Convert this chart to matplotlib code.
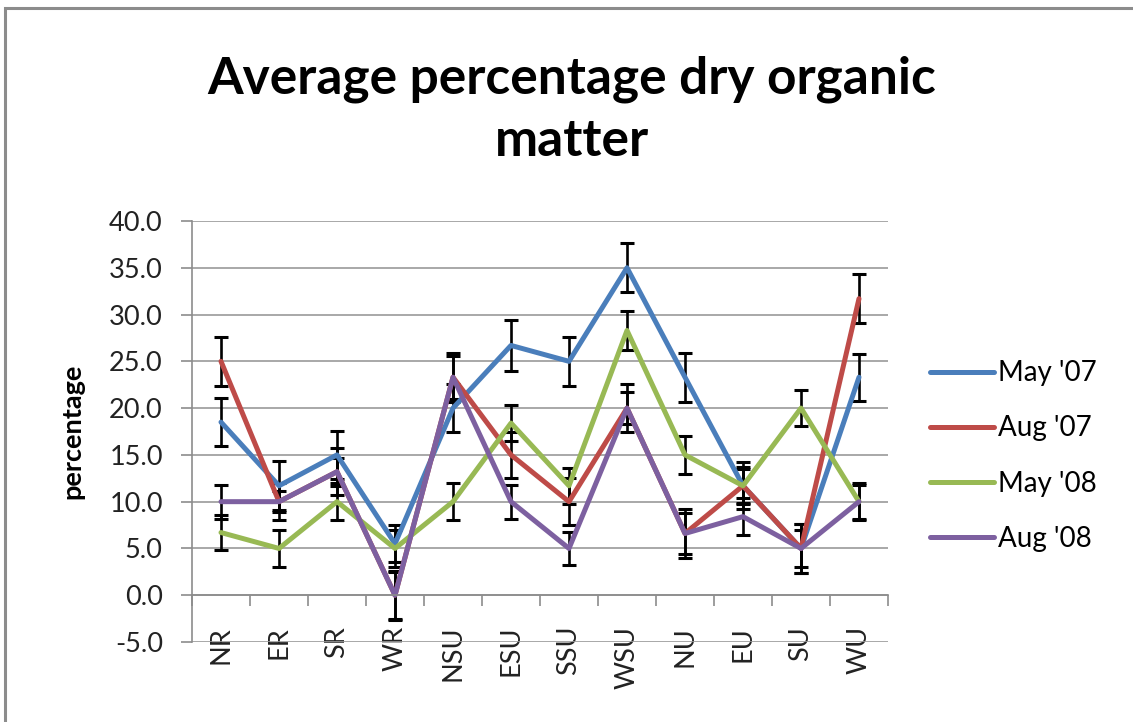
import matplotlib
matplotlib.use("Agg")
import numpy as np
from matplotlib import pyplot as plt
from matplotlib.patches import Rectangle
from matplotlib.lines import Line2D

# data
sites = ["NR", "ER", "SR", "WR", "NSU", "ESU", "SSU", "WSU", "NU", "EU", "SU", "WU"]
may07 = [18.5, 11.7, 15.0, 5.5, 20.0, 26.7, 25.0, 35.0, 23.3, 11.7, 5.0, 23.3]
aug07 = [25.0, 10.0, 13.2, 0.0, 23.3, 15.0, 10.0, 20.0, 6.6, 11.7, 5.0, 31.7]
may08 = [6.7, 5.0, 10.0, 5.0, 10.0, 18.4, 11.7, 28.3, 15.0, 11.7, 20.0, 10.0]
aug08 = [10.0, 10.0, 13.2, 0.0, 23.3, 10.0, 5.0, 20.0, 6.6, 8.4, 5.0, 10.0]
may07_err = [2.6, 2.6, 2.6, 2.0, 2.6, 2.7, 2.6, 2.6, 2.6, 2.5, 2.6, 2.5]
aug07_err = [2.6, 2.0, 2.5, 2.5, 2.6, 2.5, 2.5, 2.6, 2.6, 2.0, 2.6, 2.6]
may08_err = [1.9, 2.0, 2.0, 2.0, 2.0, 1.9, 1.9, 2.1, 2.0, 1.8, 1.9, 1.8]
aug08_err = [1.8, 1.1, 1.5, 2.6, 2.3, 1.8, 1.8, 1.7, 2.2, 2.0, 2.0, 2.0]
labels = ["May '07", "Aug '07", "May '08", "Aug '08"]
colors = ["#4A7EBB", "#BE4B48", "#98B954", "#7D60A0"]

plt.rcParams["font.family"] = ["Lato", "DejaVu Sans"]

fig = plt.figure(figsize=(11.33, 7.22), dpi=100)
ax = fig.add_axes([192 / 1133, 1 - 642 / 722, (888 - 192) / 1133, (642 - 221) / 722])

x = np.arange(len(sites))
series = [(may07, may07_err), (aug07, aug07_err), (may08, may08_err), (aug08, aug08_err)]
for (vals, err), col in zip(series, colors):
    ax.errorbar(x, vals, yerr=err, color=col, lw=3.6, solid_capstyle="round",
                ecolor="black", elinewidth=1.9, capsize=5, capthick=2.2)

ax.set_xlim(-0.5, 11.5)
ax.set_ylim(-5, 40)
ax.set_yticks(np.arange(-5, 41, 5))
ax.set_yticklabels([f"{v:.1f}" for v in np.arange(-5, 41, 5)], fontsize=19.5, color="#222222")
ax.yaxis.grid(True, color="#9a9a9a", lw=1.2)
ax.set_axisbelow(True)
ax.tick_params(axis="y", length=8, width=1.2, color="#8c8c8c", pad=13)

ax.spines["bottom"].set_position(("data", 0))
for s in ["top", "right"]:
    ax.spines[s].set_visible(False)
for s in ["left", "bottom"]:
    ax.spines[s].set_color("#8c8c8c")
    ax.spines[s].set_linewidth(1.2)

ax.set_xticks(x)
ax.set_xticklabels(sites, rotation=90, fontsize=19.5, color="#222222")
ax.tick_params(axis="x", which="major", length=0, pad=22)
ax.set_xticks(np.arange(-0.5, 12, 1), minor=True)
ax.tick_params(axis="x", which="minor", length=8, width=1.2, color="#8c8c8c", direction="out")

ax.set_ylabel("percentage", fontsize=19.5, fontweight="bold", labelpad=18)

fig.text(0.505, 1 - 110 / 722, "Average percentage dry organic\nmatter", ha="center", va="center",
         fontsize=37, fontweight="bold", linespacing=1.4)

handles = [Line2D([], [], color=c, lw=3.6, solid_capstyle="round") for c in colors]
fig.legend(handles, labels, loc="center left", bbox_to_anchor=(930 / 1133, 1 - 456 / 722),
           frameon=False, fontsize=20, handlelength=2.3, handletextpad=0.15, labelspacing=1.05,
           borderpad=0, borderaxespad=0)

# chart area border (top and left visible)
fig.patches.append(Rectangle((5 / 1133, -0.05), 1.2, 1 - 8 / 722 + 0.05, transform=fig.transFigure,
                             fill=False, edgecolor="#8c8c8c", lw=2.2))

fig.savefig("out.png", dpi=100)
